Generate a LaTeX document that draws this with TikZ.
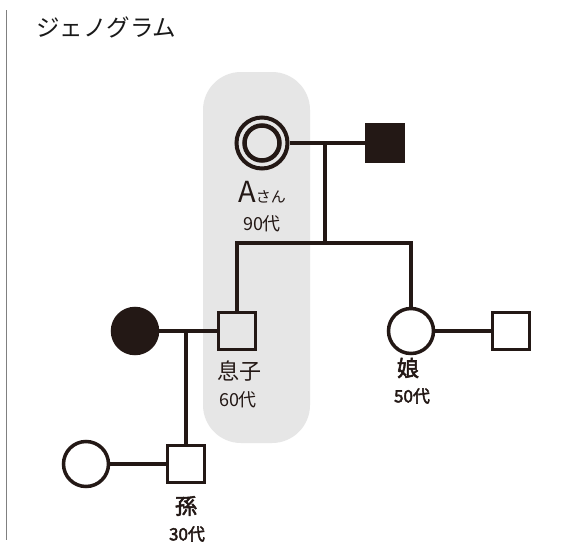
\documentclass[tikz,border=0pt]{standalone}
\usepackage{fontspec}
\setmainfont{Noto Sans CJK JP}
\newfontfamily\jpb{Noto Sans CJK JP}[FakeBold=2.5]
\definecolor{ink}{HTML}{231815}
\definecolor{pillgray}{HTML}{E6E6E6}
\begin{document}
\begin{tikzpicture}[x=1pt,y=-1pt,
  ln/.style={draw=ink,line width=3.5pt},
  sq/.style={rectangle,draw=ink,line width=3.5pt,minimum size=37pt,inner sep=0pt},
  ci/.style={circle,draw=ink,line width=3.5pt,minimum size=45pt,inner sep=0pt},
  lab/.style={text=ink,inner sep=0pt,font=\fontsize{22}{22}\selectfont},
  age/.style={text=ink,inner sep=0pt,font=\fontsize{18}{18}\selectfont},
  blab/.style={text=ink,inner sep=0pt,font=\jpb\fontsize{22}{22}\selectfont},
  bage/.style={text=ink,inner sep=0pt,font=\jpb\fontsize{17}{17}\selectfont}]
\useasboundingbox (0,0) rectangle (576,546);
\fill[white] (0,0) rectangle (576,546);
% frame line and title
\coordinate (bt) at (6.5,10);
\coordinate (bb) at (6.5,540);
\draw[black!50,line width=1.5pt] (bt) -- (bb);
\node[anchor=west,inner sep=0pt,text=black!90,font=\fontsize{23.5}{23.5}\selectfont] (title) at (36,27) {ジェノグラム};
% highlight
\fill[pillgray,rounded corners=38pt] (203,72) rectangle (310,443);
% people
\node[ci,line width=4pt,minimum size=51pt] (A) at (262,143) {};
\draw[ink,line width=4.5pt] (A.center) circle (17.5);
\node[sq,fill=ink] (F) at (385,143) {};
\node[sq] (S) at (237,331) {};
\node[ci,fill=ink] (W) at (135,331) {};
\node[ci] (D) at (411,331) {};
\node[sq] (DH) at (511,331) {};
\node[sq] (G) at (186,464) {};
\node[ci] (GW) at (86,464) {};
% connectors
\coordinate (m1) at (325,143);
\coordinate (m1d) at (325,243);
\coordinate (sibL) at (237,243);
\coordinate (sibR) at (411,243);
\coordinate (m2) at (186,331);
\draw[ln] (A.east) -- (F.west);
\draw[ln] (m1) -- (m1d);
\draw[ln,line join=miter] (S.north) -- (sibL) -- (sibR) -- (D.north);
\draw[ln] (W.east) -- (S.west);
\draw[ln] (D.east) -- (DH.west);
\draw[ln] (m2) -- (G.north);
\draw[ln] (GW.east) -- (G.west);
% labels
\node[text=ink,inner sep=0pt,anchor=base] (la) at (262,202) {{\fontsize{29}{29}\selectfont A}{\fontsize{15}{15}\selectfont さん}};
\node[age] (aa) at (262,224) {90代};
\node[lab] (ls) at (239,371) {息子};
\node[age] (as) at (238,400) {60代};
\node[blab] (ld) at (408,368) {娘};
\node[bage] (ad) at (412,396) {50代};
\node[blab] (lg) at (186,506) {孫};
\node[bage] (ag) at (187,534) {30代};
\end{tikzpicture}
\end{document}
